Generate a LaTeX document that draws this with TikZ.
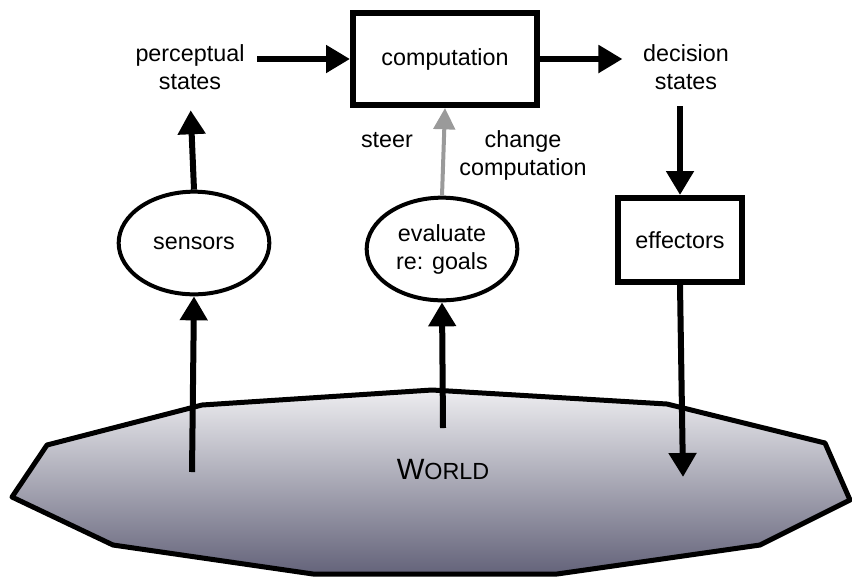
\documentclass[tikz,border=0pt]{standalone}
\usepackage{fontspec}
\setmainfont{Liberation Sans}
\usetikzlibrary{arrows.meta, shapes.geometric}
\definecolor{worldtop}{HTML}{EDEDF0}
\definecolor{worldbot}{HTML}{64637A}
\definecolor{steergray}{HTML}{9A9A9A}
\begin{document}
\begin{tikzpicture}[x=0.75pt, y=-0.75pt,
    every node/.style={font=\fontsize{17.5}{21}\selectfont, align=center},
    box/.style={rectangle, draw, line width=4.5pt, inner sep=0pt, minimum width=#1},
    sense/.style={ellipse, draw, line width=3pt, inner sep=0pt, minimum width=113pt, minimum height=77pt},
    flow/.style={-{Triangle[width=20pt, length=18pt]}, line width=4.5pt},
    steerflow/.style={-{Triangle[width=16pt, length=16pt]}, line width=3pt, steergray}
]
\useasboundingbox (0,0) rectangle (852,576);

% the world
\path[draw, line width=3.75pt, line join=round, top color=worldtop, bottom color=worldbot]
  (12,497) -- (47,445) -- (202,405) -- (432,390) -- (667,404) -- (825,443) -- (850,500)
  -- (760,545) -- (557,574) -- (313,574) -- (113,545) -- cycle;
\node (world) at (443,470) {{\fontsize{22}{22}\selectfont W}{\fontsize{17.5}{22}\selectfont ORLD}};
\coordinate (sensin) at (192,472);
\coordinate (evalin) at (443,428);
\coordinate (effout) at (683,477);

% top row
\node (percept) at (190,67) {perceptual\\states};
\node[box=138pt, minimum height=69pt] (comp) at (445,59) {computation};
\node (decision) at (686,67) {decision\\states};

% middle row
\node[sense] (sensors) at (194,243) {sensors};
\node[sense] (evaluate) at (442,249) {evaluate\\re: goals};
\node[box=93pt, minimum height=63pt] (effectors) at (680,240) {effectors};

\node (steer) at (387,140) {steer};
\node (change) at (523,155) {change\\computation};

% arrows
\draw[flow] (sensin) -- (sensors.south);
\draw[flow] (evalin) -- (evaluate.south);
\draw[flow, shorten >=12pt] (sensors.north) -- (percept.south);
\draw[flow, shorten <=6pt] (percept.east |- comp.west) -- (comp.west);
\draw[flow, shorten >=12pt] (comp.east) -- (decision.west |- comp.east);
\draw[flow, shorten <=9pt] (decision.south -| effectors.north) -- (effectors.north);
\draw[flow] (effectors.south) -- (effout);
\draw[steerflow] (evaluate.north) -- (comp.south);

\end{tikzpicture}
\end{document}
